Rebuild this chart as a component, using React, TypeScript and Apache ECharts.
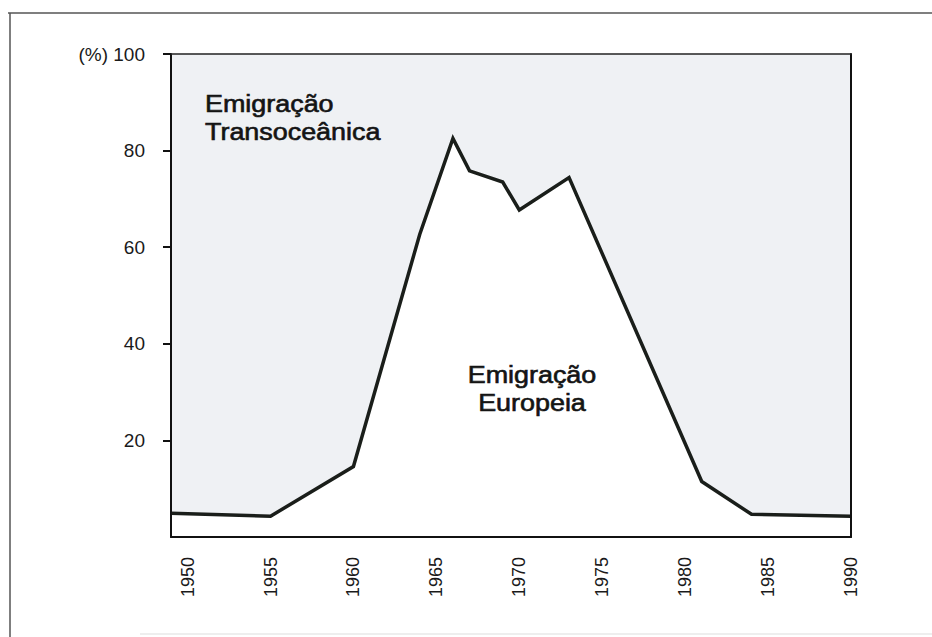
import React, { useEffect, useRef } from "react";
import * as echarts from "echarts";

// Years of the plotted vertices (x) and share of European emigration (%, y)
const years = [1949, 1955, 1960, 1964, 1966, 1967, 1969, 1970, 1973, 1981, 1984, 1990];
const europeanShare = [4.9, 4.3, 14.6, 62.7, 82.5, 75.8, 73.5, 67.7, 74.4, 11.5, 4.7, 4.3];
const xTickYears = [1950, 1955, 1960, 1965, 1970, 1975, 1980, 1985, 1990];
const yTickValues = [20, 40, 60, 80, 100];
const topLabel = ["Emigração", "Transoceânica"];
const middleLabel = ["Emigração", "Europeia"];

const FONT = '"Liberation Sans", Arial, Helvetica, sans-serif';

export default function App() {
  const ref = useRef<HTMLDivElement>(null);

  useEffect(() => {
    if (!ref.current) return;
    const chart = echarts.init(ref.current, undefined, { renderer: "svg" });
    const data = years.map((y, i) => [y, europeanShare[i]]);
    const axisLineStyle = { color: "#111", width: 2 };

    const textEl = (t: string, x: number, y: number, align: string) => ({
      type: "text",
      x,
      y,
      scaleX: 1.17,
      z: 100,
      style: {
        text: t,
        font: `23px ${FONT}`,
        fill: "#141414",
        stroke: "#141414",
        lineWidth: 0.6,
        textAlign: align,
        textVerticalAlign: "top",
      },
    });

    chart.setOption({
      animation: false,
      backgroundColor: "#ffffff",
      grid: {
        left: 171,
        right: 81,
        top: 54,
        bottom: 100,
        show: true,
        backgroundColor: "#eff1f4",
        borderWidth: 0,
      },
      xAxis: [
        {
          type: "value",
          min: 1949,
          max: 1990,
          z: 5,
          axisLine: { show: true, onZero: false, lineStyle: axisLineStyle },
          axisTick: { show: false },
          splitLine: { show: false },
          axisLabel: {
            customValues: xTickYears,
            rotate: 90,
            margin: 20,
            fontSize: 18,
            fontFamily: FONT,
            color: "#1a1a1a",
            formatter: (v: number) => String(v),
          },
        },
        {
          type: "value",
          position: "top",
          min: 1949,
          max: 1990,
          z: 5,
          axisLine: { show: true, onZero: false, lineStyle: { color: "#222", width: 1.5 } },
          axisTick: { show: false },
          axisLabel: { show: false },
          splitLine: { show: false },
        },
      ],
      yAxis: [
        {
          type: "value",
          min: 0,
          max: 100,
          z: 5,
          axisLine: { show: true, onZero: false, lineStyle: axisLineStyle },
          axisTick: {
            show: true,
            customValues: yTickValues,
            length: 8,
            lineStyle: { color: "#111", width: 2 },
          },
          splitLine: { show: false },
          axisLabel: {
            customValues: yTickValues,
            margin: 26,
            fontSize: 19,
            fontFamily: FONT,
            color: "#1a1a1a",
            formatter: (v: number) => (v === 100 ? "(%) 100" : String(v)),
          },
        },
        {
          type: "value",
          position: "right",
          min: 0,
          max: 100,
          z: 5,
          axisLine: { show: true, onZero: false, lineStyle: axisLineStyle },
          axisTick: { show: false },
          axisLabel: { show: false },
          splitLine: { show: false },
        },
      ],
      series: [
        {
          type: "line",
          data,
          symbol: "none",
          z: 3,
          lineStyle: { color: "#1a1e1a", width: 3.5, join: "miter" },
          areaStyle: { color: "#ffffff", opacity: 1, origin: "start" },
        },
      ],
      graphic: [
        {
          type: "line",
          shape: { x1: 8, y1: 13, x2: 932, y2: 13 },
          style: { stroke: "#555", lineWidth: 1.5 },
        },
        {
          type: "line",
          shape: { x1: 10, y1: 13, x2: 10, y2: 637 },
          style: { stroke: "#555", lineWidth: 1.5 },
        },
        {
          type: "line",
          shape: { x1: 140, y1: 634, x2: 932, y2: 634 },
          style: { stroke: "#ddd", lineWidth: 1 },
        },
        textEl(topLabel[0], 205, 92, "left"),
        textEl(topLabel[1], 205, 120, "left"),
        textEl(middleLabel[0], 532, 363, "center"),
        textEl(middleLabel[1], 532, 391, "center"),
      ],
    });

    return () => chart.dispose();
  }, []);

  return (
    <div
      ref={ref}
      style={{ position: "fixed", left: 0, top: 0, width: 932, height: 637 }}
    />
  );
}
